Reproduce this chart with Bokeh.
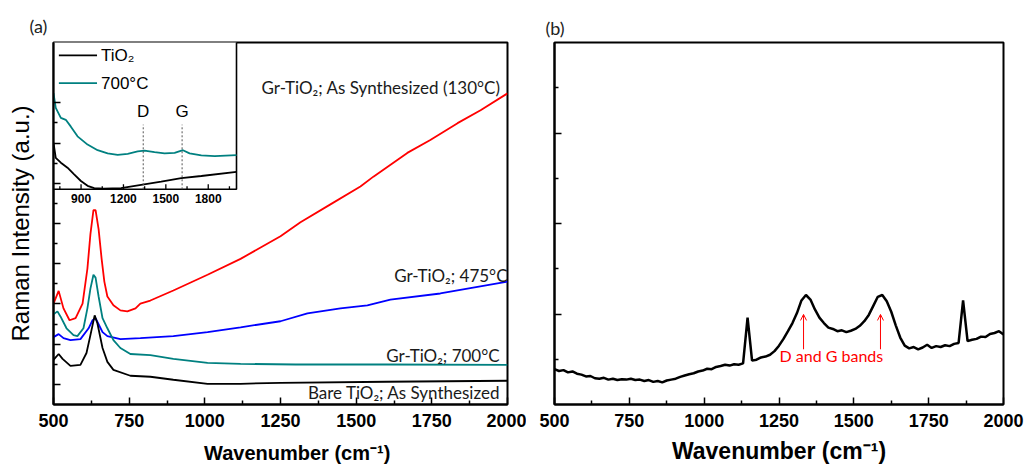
import numpy as np
from bokeh.plotting import figure
from bokeh.layouts import row
from bokeh.models import Range1d, FixedTicker, Arrow, OpenHead, CustomLabelingPolicy
from bokeh.core.properties import value
from bokeh.embed import file_html
from bokeh.resources import INLINE

# ---------------- Panel (a): main spectra (a.u.) ----------------
red_w = [500, 517, 533, 553, 573, 596, 612, 622, 632, 639, 649, 659, 668, 678, 698, 721, 744, 771,
         787, 820, 896, 1009, 1118, 1250, 1316, 1415, 1514, 1557, 1669, 1745, 1835, 1911, 2000]
red_y = [5.02, 5.65, 4.78, 4.19, 4.29, 5.02, 6.75, 8.47, 9.66, 9.66, 8.72, 7.24, 6.11, 5.37, 4.93, 4.68,
         4.63, 4.78, 5.02, 5.17, 5.67, 6.45, 7.24, 8.37, 9.06, 9.95, 10.84, 11.33, 12.51, 13.15, 13.99,
         14.63, 15.47]

blue_w = [500, 517, 533, 556, 589, 616, 629, 639, 649, 662, 678, 721, 787, 896, 1009, 1118, 1250, 1339,
          1448, 1537, 1613, 1778, 2000]
blue_y = [3.35, 3.50, 3.30, 3.20, 3.25, 3.79, 4.19, 4.29, 3.99, 3.60, 3.40, 3.25, 3.30, 3.40, 3.60, 3.84,
          4.14, 4.53, 4.78, 4.93, 5.22, 5.52, 6.11]

teal_w = [500, 513, 523, 543, 566, 579, 599, 612, 622, 632, 639, 649, 662, 678, 698, 721, 754, 820, 896,
          1009, 1118, 1300, 1600, 2000]
teal_y = [4.48, 4.63, 4.38, 3.79, 3.45, 3.40, 3.79, 4.78, 5.76, 6.45, 6.31, 5.37, 4.29, 3.79, 3.20, 2.81,
          2.51, 2.46, 2.27, 2.07, 2.02, 1.99, 1.99, 1.97]

black_w = [500, 517, 530, 556, 589, 609, 622, 636, 645, 662, 678, 698, 754, 820, 896, 1009, 1118, 1250,
           1600, 2000]
black_y = [2.22, 2.51, 2.27, 1.92, 1.97, 2.56, 3.45, 4.43, 4.04, 2.81, 2.12, 1.72, 1.43, 1.38, 1.23, 1.03,
           1.03, 1.08, 1.13, 1.18]

curve_labels = ["Gr-TiO\u2082; As Synthesized (130\u00b0C)", "Gr-TiO\u2082; 475\u00b0C",
                "Gr-TiO\u2082; 700\u00b0C", "Bare TiO\u2082; As Synthesized"]

# ---------------- Panel (a) inset ----------------
inset_teal_w = [705, 721, 757, 792, 828, 875, 946, 1017, 1088, 1159, 1230, 1301, 1349, 1420, 1491, 1562,
                1621, 1668, 1751, 1846, 2000]
inset_teal_y = [4.52, 3.79, 3.30, 3.20, 2.86, 2.38, 1.97, 1.69, 1.53, 1.46, 1.51, 1.63, 1.67, 1.59, 1.53,
                1.56, 1.69, 1.53, 1.43, 1.40, 1.45]
inset_black_w = [705, 721, 757, 804, 851, 899, 946, 993, 1060, 1183, 1325, 1467, 1609, 1751, 2000]
inset_black_y = [2.05, 1.31, 1.07, 0.82, 0.49, 0.16, -0.08, -0.19, -0.22, -0.19, -0.03, 0.13, 0.30, 0.41, 0.61]
inset_legend = ["TiO\u2082", "700\u00b0C"]
band_names = ["D", "G"]
band_pos = [1340, 1615]
inset_ticks = [900, 1200, 1500, 1800]
inset_minor = [750, 1050, 1350, 1650, 1950]

# ---------------- Panel (b) ----------------
b_w = list(range(500, 2001, 15))
b_y = [0.78, 0.74, 0.76, 0.71, 0.73, 0.68, 0.66, 0.62, 0.63, 0.58, 0.57, 0.59, 0.55, 0.57, 0.54, 0.56,
       0.55, 0.57, 0.54, 0.55, 0.52, 0.54, 0.50, 0.52, 0.49, 0.53, 0.55, 0.57, 0.61, 0.64, 0.67, 0.69,
       0.73, 0.75, 0.79, 0.78, 0.83, 0.85, 0.88, 0.86, 0.89, 0.88, 0.91, 1.92, 0.97, 0.99, 1.04, 1.06,
       1.10, 1.18, 1.30, 1.45, 1.62, 1.80, 2.02, 2.30, 2.42, 2.32, 2.10, 1.92, 1.80, 1.70, 1.67, 1.62,
       1.64, 1.60, 1.63, 1.67, 1.74, 1.84, 1.98, 2.18, 2.38, 2.42, 2.28, 2.05, 1.75, 1.48, 1.30, 1.24,
       1.27, 1.22, 1.26, 1.32, 1.25, 1.29, 1.27, 1.31, 1.29, 1.34, 1.36, 2.30, 1.40, 1.43, 1.45, 1.50,
       1.49, 1.56, 1.58, 1.62, 1.55]
b_label = "D and G bands"
b_arrow_w = [1332, 1589]

x_ticks = [500, 750, 1000, 1250, 1500, 1750, 2000]
x_minor = [625, 875, 1125, 1375, 1625, 1875]

SANS = "Liberation Sans"
CAL = "Lato"

def style(p, yticks, yminor):
    p.xgrid.visible = False
    p.ygrid.visible = False
    p.outline_line_color = "black"
    p.outline_line_width = 2
    p.xaxis.ticker = FixedTicker(ticks=x_ticks, minor_ticks=x_minor)
    p.yaxis.ticker = FixedTicker(ticks=yticks, minor_ticks=yminor)
    for ax in (p.xaxis[0], p.yaxis[0]):
        ax.axis_line_width = 2
        ax.major_tick_in = 7
        ax.major_tick_out = 0
        ax.minor_tick_in = 4
        ax.minor_tick_out = 0
        ax.major_tick_line_width = 1.5
        ax.minor_tick_line_width = 1.5
    p.xaxis.major_label_text_font = SANS
    p.xaxis.major_label_text_font_style = "bold"
    p.xaxis.major_label_text_font_size = "18px"
    p.xaxis.major_label_text_color = "black"
    p.xaxis.major_label_standoff = 9
    p.xaxis.axis_label_text_font = SANS
    p.xaxis.axis_label_text_font_style = "bold"
    p.xaxis.axis_label_text_color = "black"
    p.yaxis.major_label_policy = CustomLabelingPolicy(
        code="for (const i of indices) indices.unset(i); return indices")
    p.yaxis.major_label_standoff = 0
    p.title.text_font = CAL
    p.title.text_font_size = "18px"
    p.title.text_font_style = "normal"
    p.title.text_color = "#222222"
    p.title.align = "left"

# ---------------- Figure (a) ----------------
pa = figure(width=526, height=466, output_backend="svg", toolbar_location=None,
            x_range=Range1d(500, 2000), y_range=Range1d(0, 18),
            min_border_left=53, min_border_right=19, min_border_top=42, min_border_bottom=59,
            title="(a)")
style(pa, list(range(1, 16, 2)), list(range(2, 15, 2)))
pa.title.offset = -24
pa.title.standoff = 11
pa.xaxis.axis_label = "\u00a0" * 6 + "Wavenumber (cm\u207b\u00b9)"
pa.xaxis.axis_label_text_font_size = "20px"
pa.xaxis.axis_label_standoff = 12
pa.yaxis.axis_label = "Raman Intensity (a.u.)"
pa.yaxis.axis_label_text_font = SANS
pa.yaxis.axis_label_text_font_style = "normal"
pa.yaxis.axis_label_text_font_size = "24px"
pa.yaxis.axis_label_text_color = "black"
pa.yaxis.axis_label_standoff = 4

pa.line(red_w, red_y, line_color="#ff0000", line_width=1.8)
pa.line(blue_w, blue_y, line_color="#0000ff", line_width=1.8)
pa.line(teal_w, teal_y, line_color="#008080", line_width=1.8)
pa.line(black_w, black_y, line_color="black", line_width=1.8)

lab_x = [1977, 2000, 1974, 1977]
lab_y = [15.76, 6.40, 2.46, 0.59]
pa.text(x=lab_x, y=lab_y, text=curve_labels, text_align="right", text_baseline="middle",
        text_font=value(CAL), text_font_size="17px", text_color="#1a1a1a")

# inset via extra ranges mapped onto part of the frame
FW, FH = 454.0, 365.0
IX0, IX1 = 705.0, 2000.0
INSET_WPX = 183.0
PXU = 20.3
IY_TOP = 7.04
pa.extra_x_ranges = {"ix": Range1d(IX0, IX0 + (IX1 - IX0) * FW / INSET_WPX)}
pa.extra_y_ranges = {"iy": Range1d(IY_TOP - FH / PXU, IY_TOP)}
IY_BOT = IY_TOP - 148.0 / PXU
kw = dict(x_range_name="ix", y_range_name="iy")
pa.quad(left=[IX0], right=[IX1], bottom=[IY_BOT], top=[IY_TOP + 1], fill_color="white",
        line_color="black", line_width=1.6, **kw)
pa.line(inset_teal_w, inset_teal_y, line_color="#008080", line_width=1.8, **kw)
pa.line(inset_black_w, inset_black_y, line_color="black", line_width=1.8, **kw)
pa.segment(x0=band_pos, x1=band_pos, y0=[IY_BOT] * 2, y1=[2.96] * 2, line_color="#555555",
           line_width=1, line_dash="2 2", **kw)
pa.text(x=band_pos, y=[3.6] * 2, text=band_names, text_align="center", text_baseline="middle",
        text_font=value(SANS), text_font_size="17px", text_color="black", **kw)
# legend
pa.segment(x0=[743, 743], x1=[1013, 1013], y0=[6.4, 5.02], y1=[6.4, 5.02],
           line_color=["black", "#008080"], line_width=1.8, **kw)
pa.text(x=[1041, 1041], y=[6.4, 5.02], text=inset_legend, text_align="left", text_baseline="middle",
        text_font=value(SANS), text_font_size="17px", text_color="black", **kw)
# inset x ticks and labels
pa.segment(x0=inset_ticks, x1=inset_ticks, y0=[IY_BOT] * 4, y1=[IY_BOT + 5 / PXU] * 4,
           line_color="black", line_width=1.3, **kw)
pa.segment(x0=inset_minor, x1=inset_minor, y0=[IY_BOT] * 5, y1=[IY_BOT + 3 / PXU] * 5,
           line_color="black", line_width=1.3, **kw)
pa.text(x=inset_ticks, y=[IY_BOT] * 4, text=[str(t) for t in inset_ticks], text_align="center",
        text_baseline="top", y_offset=5, text_font=value(SANS), text_font_style="bold",
        text_font_size="12px", text_color="black", **kw)

# ---------------- Figure (b) ----------------
pb = figure(width=500, height=466, output_backend="svg", toolbar_location=None,
            x_range=Range1d(500, 2000), y_range=Range1d(0, 8),
            min_border_left=28, min_border_right=23, min_border_top=42, min_border_bottom=58,
            title="(b)")
style(pb, [2, 4, 6], [1, 3, 5, 7])
pb.title.offset = -9
pb.title.standoff = 8
pb.xaxis.axis_label = "Wavenumber (cm\u207b\u00b9)"
pb.xaxis.axis_label_text_font_size = "23px"
pb.xaxis.axis_label_standoff = 8
pb.line(b_w, b_y, line_color="black", line_width=2.5)
pb.text(x=[1425], y=[1.09], text=[b_label], text_align="center", text_baseline="middle",
        text_font=value(CAL), text_font_size="16px", text_color="#ff0000")
for aw in b_arrow_w:
    pb.add_layout(Arrow(end=OpenHead(size=6, line_color="#ff0000", line_width=1),
                        x_start=aw, y_start=1.22, x_end=aw, y_end=1.99,
                        line_color="#ff0000", line_width=1))

layout = row(pa, pb)
open("out.html", "w").write(file_html(layout, INLINE))
